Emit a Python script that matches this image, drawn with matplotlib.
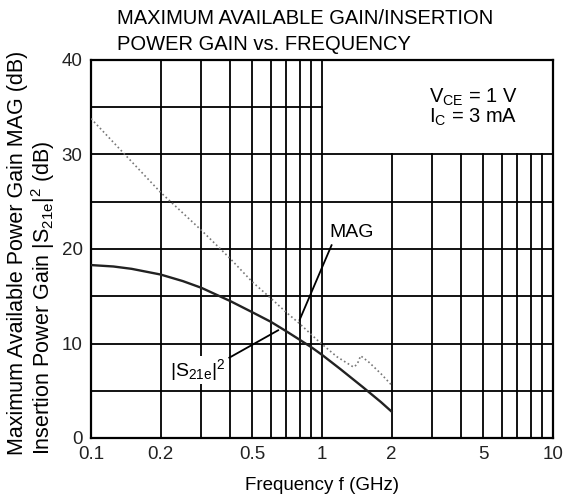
import numpy as np
import matplotlib
matplotlib.use("Agg")
import matplotlib.pyplot as plt

plt.rcParams['font.family'] = ['Liberation Sans', 'DejaVu Sans']
plt.rcParams['mathtext.fontset'] = 'custom'
plt.rcParams['mathtext.rm'] = 'Liberation Sans'
plt.rcParams['mathtext.it'] = 'Liberation Sans'
plt.rcParams['mathtext.default'] = 'regular'

# ---- data ----
s21_freq = [0.1, 0.125, 0.15, 0.2, 0.25, 0.3, 0.4, 0.5, 0.6, 0.7, 0.8, 0.9, 1.0, 1.2, 1.5, 1.8, 2.0]
s21_gain = [18.3, 18.15, 17.9, 17.3, 16.6, 15.9, 14.5, 13.3, 12.3, 11.3, 10.4, 9.6, 8.8, 7.3, 5.4, 3.8, 2.8]

mag_freq = [0.1, 0.2, 0.3, 0.4, 0.5, 0.6, 0.7, 0.8, 0.97, 1.16, 1.37, 1.42, 1.47, 1.6, 1.8, 2.0]
mag_gain = [33.8, 26.0, 22.0, 19.0, 16.5, 14.8, 13.3, 12.1, 10.2, 8.6, 7.5, 7.8, 8.7, 8.0, 6.8, 5.6]

xticks = [0.1, 0.2, 0.5, 1, 2, 5, 10]
xticklabels = ['0.1', '0.2', '0.5', '1', '2', '5', '10']
yticks = [0, 10, 20, 30, 40]

minor_lo = [0.2, 0.3, 0.4, 0.5, 0.6, 0.7, 0.8, 0.9]
minor_hi = [2, 3, 4, 5, 6, 7, 8, 9]
hlines_full = [5, 10, 15, 20, 25, 30]
hlines_part = [35]

fig = plt.figure(figsize=(5.68, 5.0), dpi=100)
ax = fig.add_axes([91/568, 1-438/500, 462/568, 378/500])
ax.set_xscale('log')
ax.set_xlim(0.1, 10)
ax.set_ylim(0, 40)

gl = dict(color='black', lw=1.3, zorder=1)
for f in minor_lo + [1]:
    ax.plot([f, f], [0, 40], **gl)
for f in minor_hi:
    ax.plot([f, f], [0, 30], **gl)
for g in hlines_full:
    ax.plot([0.1, 10], [g, g], **gl)
for g in hlines_part:
    ax.plot([0.1, 1], [g, g], **gl)

ax.plot(s21_freq, s21_gain, color='#222222', lw=1.7, zorder=3)
ax.plot(mag_freq, mag_gain, color='#777777', lw=1.2, ls=(0, (1, 1.6)), zorder=3)

# leaders
ax.plot([0.80, 1.10], [12.5, 20.4], color='black', lw=1.3, zorder=4)
ax.plot([0.397, 0.646], [8.5, 11.4], color='black', lw=1.3, zorder=4)

ax.text(1.08, 21.7, 'MAG', fontsize=14, va='center', ha='left', zorder=5)
ax.text(0.29, 7.2, r'$|S_{21e}|^2$', fontsize=14, va='center', ha='center', zorder=5,
        bbox=dict(facecolor='white', edgecolor='none', pad=1))

ax.text(2.9, 36.1, r'V$_{CE}$ = 1 V', fontsize=14.5, va='center', ha='left')
ax.text(2.9, 33.9, r'I$_C$ = 3 mA', fontsize=14.5, va='center', ha='left')

for s in ax.spines.values():
    s.set_linewidth(1.6)
    s.set_color('black')

ax.set_xticks(xticks)
ax.set_xticklabels(xticklabels)
ax.minorticks_off()
ax.set_xticks([], minor=True)
ax.set_yticks(yticks)
ax.tick_params(length=0, labelsize=13.5, pad=6, colors='#222222')

ax.set_xlabel('Frequency f (GHz)', fontsize=13.5, labelpad=10)
fig.text(7/568, 1-455/500,
         'Maximum Available Power Gain MAG (dB)\nInsertion Power Gain $|S_{21e}|^2$ (dB)',
         rotation=90, fontsize=15.5, ha='left', va='bottom', multialignment='left',
         linespacing=1.05)

fig.text(117/568, 1-9/500, 'MAXIMUM AVAILABLE GAIN/INSERTION\nPOWER GAIN vs. FREQUENCY',
         fontsize=14.5, ha='left', va='top', linespacing=1.45)

fig.savefig('out.png', dpi=100)
